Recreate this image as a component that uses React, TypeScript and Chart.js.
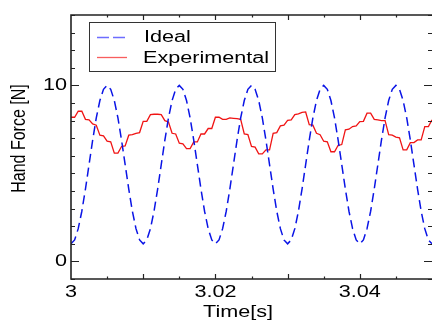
import React, { useEffect, useRef } from "react";
import { Chart, registerables } from "chart.js";

Chart.register(...registerables);

const startTime = 3;
const sampleStep = 0.0005;

const idealForce = [
  1.0, 1.22, 1.86, 2.85, 4.11, 5.5, 6.89, 8.15, 9.14, 9.78, 10.0, 9.78, 9.14, 8.15, 6.89, 5.5, 4.11, 2.85, 1.86, 1.22,
  1.0, 1.22, 1.86, 2.85, 4.11, 5.5, 6.89, 8.15, 9.14, 9.78, 10.0, 9.78, 9.14, 8.15, 6.89, 5.5, 4.11, 2.85, 1.86, 1.22,
  1.0, 1.22, 1.86, 2.85, 4.11, 5.5, 6.89, 8.15, 9.14, 9.78, 10.0, 9.78, 9.14, 8.15, 6.89, 5.5, 4.11, 2.85, 1.86, 1.22,
  1.0, 1.22, 1.86, 2.85, 4.11, 5.5, 6.89, 8.15, 9.14, 9.78, 10.0, 9.78, 9.14, 8.15, 6.89, 5.5, 4.11, 2.85, 1.86, 1.22,
  1.0, 1.22, 1.86, 2.85, 4.11, 5.5, 6.89, 8.15, 9.14, 9.78, 10.0, 9.78, 9.14, 8.15, 6.89, 5.5, 4.11, 2.85, 1.86, 1.22,
  1.0,
];

const experimentalForce = [
  8.19, 8.19, 8.53, 8.53, 8.07, 8.04, 7.81, 7.74, 7.17, 7.13,
  6.83, 6.79, 6.15, 6.15, 6.53, 6.56, 7.17, 7.2, 7.28, 7.32,
  7.96, 7.96, 8.34, 8.36, 8.36, 8.34, 8.0, 7.92, 7.28, 7.24,
  6.72, 6.68, 6.41, 6.41, 6.79, 6.79, 7.24, 7.24, 7.55, 7.55,
  8.19, 8.19, 8.07, 8.07, 8.15, 8.13, 8.11, 8.07, 7.24, 7.2,
  6.53, 6.49, 6.11, 6.11, 6.34, 6.34, 7.28, 7.32, 7.7, 7.74,
  8.02, 8.04, 8.34, 8.38, 8.47, 8.49, 7.77, 7.74, 7.28, 7.2,
  6.83, 6.79, 6.23, 6.23, 6.6, 6.64, 7.47, 7.51, 7.66, 7.7,
  7.94, 7.96, 8.42, 8.42, 8.07, 8.04, 8.0, 8.0, 7.2, 7.17,
  7.06, 7.02, 6.34, 6.34, 6.75, 6.75, 6.9, 6.9, 7.66, 7.66,
  8.04,
];

const xLabelTicks = [3, 3.02, 3.04];
const xLabelText = ["3", "3.02", "3.04"];
const xMajorTicks = [3.01, 3.02, 3.03, 3.04];
const xMinorTicks = [3.005, 3.015, 3.025, 3.035, 3.045];
const yLabelTicks = [0, 10];
const yLabelText = ["0", "10"];
const yMinorTicks = [-1, 1, 2, 3, 4, 5, 6, 7, 8, 9, 11, 12, 13, 14];

const seriesNames = ["Ideal", "Experimental"];
const xTitle = "Time[s]";
const yTitle = "Hand Force [N]";

const BLUE = "#0a14e6";
const RED = "#f01414";
const STRETCH = 1.35;
const FONT = "16px 'Liberation Sans', Arial, sans-serif";

function stretchedText(ctx: CanvasRenderingContext2D, text: string, x: number, y: number, align: CanvasTextAlign, baseline: CanvasTextBaseline) {
  ctx.save();
  ctx.translate(x, y);
  ctx.scale(STRETCH, 1);
  ctx.font = FONT;
  ctx.fillStyle = "#000";
  ctx.textAlign = align;
  ctx.textBaseline = baseline;
  ctx.fillText(text, 0, 0);
  ctx.restore();
}

const framePlugin = {
  id: "idlFrame",
  afterDraw(chart: any) {
    const ctx: CanvasRenderingContext2D = chart.ctx;
    const { left, right, top, bottom } = chart.chartArea;
    const xs = chart.scales.x;
    const ys = chart.scales.y;
    ctx.save();
    ctx.strokeStyle = "#222";
    ctx.lineWidth = 1.6;
    ctx.beginPath();
    ctx.moveTo(right + 2, top);
    ctx.lineTo(left, top);
    ctx.lineTo(left, bottom);
    ctx.lineTo(right + 2, bottom);
    ctx.stroke();

    ctx.lineWidth = 1.2;
    ctx.beginPath();
    const yTick = (v: number, len: number) => {
      const py = Math.round(ys.getPixelForValue(v)) + 0.5;
      ctx.moveTo(left, py);
      ctx.lineTo(left + len, py);
      ctx.moveTo(right, py);
      ctx.lineTo(right - len, py);
    };
    yLabelTicks.forEach((v) => yTick(v, 8));
    yMinorTicks.forEach((v) => yTick(v, 4));
    const xTick = (v: number, len: number) => {
      const px = Math.round(xs.getPixelForValue(v)) + 0.5;
      ctx.moveTo(px, bottom);
      ctx.lineTo(px, bottom - len);
      ctx.moveTo(px, top);
      ctx.lineTo(px, top + len);
    };
    xMajorTicks.forEach((v) => xTick(v, 5));
    xMinorTicks.forEach((v) => xTick(v, 2.5));
    ctx.stroke();

    // tick labels
    yLabelTicks.forEach((v, i) => {
      stretchedText(ctx, yLabelText[i], left - 4, ys.getPixelForValue(v) + 0.5, "right", "middle");
    });
    xLabelTicks.forEach((v, i) => {
      stretchedText(ctx, xLabelText[i], xs.getPixelForValue(v), 297, "center", "alphabetic");
    });

    // axis titles
    stretchedText(ctx, xTitle, 238, 316.5, "center", "alphabetic");
    ctx.save();
    ctx.translate(19.5, 138.5);
    ctx.scale(STRETCH * 0.9, 1);
    ctx.rotate(-Math.PI / 2);
    ctx.font = FONT;
    ctx.fillStyle = "#000";
    ctx.textAlign = "center";
    ctx.textBaseline = "middle";
    ctx.fillText(yTitle, 0, 0);
    ctx.restore();

    // legend
    ctx.fillStyle = "#fff";
    ctx.fillRect(89.5, 22.5, 186, 49);
    ctx.strokeStyle = "#333";
    ctx.lineWidth = 1;
    ctx.strokeRect(89.5, 22.5, 186, 49);

    ctx.lineWidth = 1.3;
    ctx.strokeStyle = "rgba(60,60,255,0.75)";
    ctx.setLineDash([12, 4]);
    ctx.beginPath();
    ctx.moveTo(97, 37.5);
    ctx.lineTo(127, 37.5);
    ctx.stroke();
    ctx.setLineDash([]);
    ctx.strokeStyle = "rgba(245,40,40,0.75)";
    ctx.beginPath();
    ctx.moveTo(97, 57.5);
    ctx.lineTo(127, 57.5);
    ctx.stroke();

    stretchedText(ctx, seriesNames[0], 144, 41.7, "left", "alphabetic");
    stretchedText(ctx, seriesNames[1], 143, 63, "left", "alphabetic");
    ctx.restore();
  },
};

export default function App() {
  const canvasRef = useRef<HTMLCanvasElement | null>(null);

  useEffect(() => {
    const canvas = canvasRef.current;
    if (!canvas) return;
    const times = idealForce.map((_, i) => startTime + i * sampleStep);
    const chart = new Chart(canvas, {
      type: "line",
      data: {
        datasets: [
          {
            label: seriesNames[0],
            data: times.map((t, i) => ({ x: t, y: idealForce[i] })),
            borderColor: BLUE,
            borderWidth: 1.5,
            borderDash: [9, 5],
            pointRadius: 0,
            tension: 0,
            fill: false,
          },
          {
            label: seriesNames[1],
            data: times.map((t, i) => ({ x: t, y: experimentalForce[i] })),
            borderColor: RED,
            borderWidth: 1.3,
            pointRadius: 0,
            tension: 0,
            fill: false,
          },
        ],
      },
      options: {
        responsive: false,
        animation: false,
        devicePixelRatio: 1,
        layout: { padding: { left: 71, top: 15, right: 0, bottom: 41 } },
        scales: {
          x: { type: "linear", min: 3, max: 3.05, display: false },
          y: { type: "linear", min: -1, max: 14, display: false },
        },
        plugins: { legend: { display: false }, tooltip: { enabled: false } },
      },
      plugins: [framePlugin],
    });
    return () => chart.destroy();
  }, []);

  return (
    <div style={{ position: "absolute", left: 0, top: 0, width: 432, height: 320, background: "#fff" }}>
      <canvas ref={canvasRef} width={432} height={320} style={{ display: "block" }} />
    </div>
  );
}
